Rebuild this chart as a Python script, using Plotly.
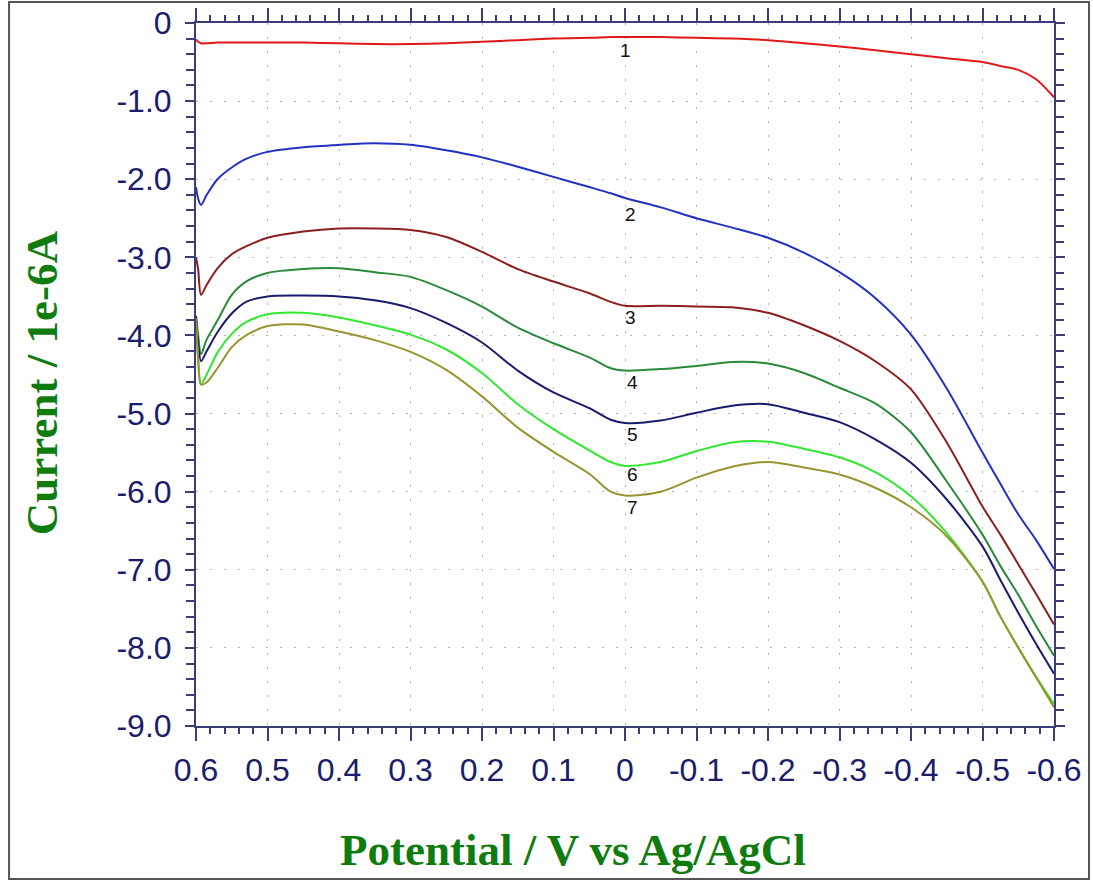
import plotly.graph_objects as go

# Potential (V) sample positions
potential = [0.6, 0.597, 0.593, 0.585, 0.57, 0.55, 0.53, 0.5, 0.45, 0.4, 0.35, 0.3, 0.25,
             0.2, 0.15, 0.1, 0.05, 0.02, 0.0, -0.05, -0.1, -0.15, -0.2, -0.25, -0.3,
             -0.35, -0.4, -0.45, -0.5, -0.525, -0.55, -0.575, -0.6]

# Current (1e-6 A) for each curve
curve1 = [-0.21, -0.24, -0.26, -0.26, -0.25, -0.25, -0.25, -0.25, -0.25, -0.26, -0.27, -0.27, -0.26,
          -0.24, -0.22, -0.2, -0.19, -0.18, -0.18, -0.18, -0.19, -0.2, -0.22, -0.26, -0.3,
          -0.35, -0.4, -0.45, -0.5, -0.55, -0.6, -0.72, -0.95]
curve2 = [-2.1, -2.25, -2.33, -2.2, -2.0, -1.85, -1.74, -1.65, -1.59, -1.56, -1.54, -1.56, -1.63,
          -1.72, -1.84, -1.97, -2.1, -2.18, -2.24, -2.36, -2.5, -2.62, -2.75, -2.94, -3.19,
          -3.52, -3.99, -4.68, -5.5, -5.9, -6.29, -6.62, -6.99]
curve3 = [-3.0, -3.15, -3.48, -3.35, -3.14, -2.96, -2.86, -2.75, -2.67, -2.63, -2.63, -2.65, -2.74,
          -2.93, -3.15, -3.31, -3.46, -3.57, -3.62, -3.62, -3.63, -3.64, -3.71, -3.87, -4.07,
          -4.33, -4.69, -5.37, -6.19, -6.55, -6.93, -7.31, -7.7]
curve4 = [-3.75, -4.0, -4.24, -4.05, -3.81, -3.48, -3.31, -3.2, -3.15, -3.14, -3.19, -3.25, -3.42,
          -3.63, -3.9, -4.1, -4.28, -4.42, -4.45, -4.43, -4.39, -4.34, -4.36, -4.48, -4.67,
          -4.87, -5.24, -5.87, -6.55, -6.95, -7.32, -7.72, -8.1]
curve5 = [-3.75, -4.1, -4.33, -4.2, -3.96, -3.72, -3.57, -3.5, -3.49, -3.5, -3.55, -3.65, -3.84,
          -4.09, -4.45, -4.73, -4.93, -5.08, -5.12, -5.09, -4.99, -4.9, -4.88, -4.99, -5.11,
          -5.33, -5.63, -6.1, -6.7, -7.13, -7.55, -7.95, -8.33]
curve6 = [-3.8, -4.3, -4.62, -4.5, -4.22, -3.98, -3.83, -3.73, -3.71, -3.77, -3.87, -3.99, -4.18,
          -4.48, -4.88, -5.2, -5.47, -5.62, -5.67, -5.62, -5.48, -5.37, -5.36, -5.45, -5.56,
          -5.75, -6.06, -6.53, -7.15, -7.6, -7.99, -8.37, -8.72]
curve7 = [-3.78, -4.3, -4.63, -4.6, -4.42, -4.15, -4.0, -3.88, -3.86, -3.95, -4.06, -4.21, -4.44,
          -4.78, -5.18, -5.49, -5.77, -6.0, -6.05, -6.0, -5.82, -5.68, -5.62, -5.69, -5.78,
          -5.95, -6.2, -6.57, -7.15, -7.6, -8.0, -8.38, -8.76]

curve_names = ["1", "2", "3", "4", "5", "6", "7"]
curve_colors = ["#e01818", "#2232c0", "#8b1e1e", "#2a8a3a", "#1a1a6e", "#30e830", "#9a9430"]

# curve number labels (data coordinates)
label_x = [0.0, -0.007, -0.007, -0.01, -0.01, -0.01, -0.01]
label_y = [-0.35, -2.45, -3.77, -4.6, -5.27, -5.78, -6.2]

# axis ticks
x_tickvals = [0.6, 0.5, 0.4, 0.3, 0.2, 0.1, 0.0, -0.1, -0.2, -0.3, -0.4, -0.5, -0.6]
x_ticktext = ["0.6", "0.5", "0.4", "0.3", "0.2", "0.1", "0", "-0.1", "-0.2", "-0.3", "-0.4", "-0.5", "-0.6"]
y_tickvals = [0, -1, -2, -3, -4, -5, -6, -7, -8, -9]
y_ticktext = ["0", "-1.0", "-2.0", "-3.0", "-4.0", "-5.0", "-6.0", "-7.0", "-8.0", "-9.0"]

curves = [curve1, curve2, curve3, curve4, curve5, curve6, curve7]

fig = go.Figure()
for name, ys, col in zip(curve_names, curves, curve_colors):
    fig.add_trace(go.Scatter(x=potential, y=ys, mode="lines", name=name,
                             line=dict(color=col, width=2, shape="spline", smoothing=0.8),
                             showlegend=False, hoverinfo="skip"))

for name, lx, ly in zip(curve_names, label_x, label_y):
    fig.add_annotation(x=lx, y=ly, text=name, showarrow=False,
                       font=dict(family="Liberation Sans, Arial, sans-serif", size=19, color="#111111"))

axis_col = "#3c3c78"
tick_font = dict(family="Liberation Sans, Arial, sans-serif", size=32, color="#1c1c6c")
grid_col = "#b4b4b4"

fig.update_xaxes(range=[0.6, -0.6], tickvals=x_tickvals, ticktext=x_ticktext,
                 showline=True, linecolor=axis_col, linewidth=2, mirror="allticks",
                 ticks="outside", ticklen=13, tickwidth=1.5, tickcolor=axis_col,
                 tickfont=tick_font, ticklabelstandoff=2, automargin=False,
                 showgrid=True, gridcolor=grid_col, griddash="2px,12px", gridwidth=1,
                 zeroline=False,
                 minor=dict(dtick=0.02, ticks="outside", ticklen=6, tickwidth=1.5,
                            tickcolor=axis_col, showgrid=False))
fig.update_yaxes(range=[-9, 0], tickvals=y_tickvals, ticktext=y_ticktext,
                 showline=True, linecolor=axis_col, linewidth=2, mirror="allticks",
                 ticks="outside", ticklen=9, tickwidth=1.5, tickcolor=axis_col,
                 tickfont=tick_font, ticklabelstandoff=7, automargin=False,
                 showgrid=True, gridcolor=grid_col, griddash="2px,12px", gridwidth=1,
                 zeroline=False,
                 minor=dict(dtick=0.2, ticks="outside", ticklen=8, tickwidth=1.5,
                            tickcolor=axis_col, showgrid=False))

title_font = dict(family="Liberation Serif, Times New Roman, serif", size=45,
                  color="#107c10", weight="bold")
fig.add_annotation(xref="paper", yref="paper", x=0.4394, y=-0.1764,
                   text="Potential / V vs Ag/AgCl", showarrow=False, font=title_font,
                   xanchor="center", yanchor="middle")
fig.add_annotation(xref="paper", yref="paper", x=-0.1795, y=0.489,
                   text="Current / 1e-6A", showarrow=False, font=title_font, textangle=-90,
                   xanchor="center", yanchor="middle")

# outer frame
fig.add_shape(type="rect", xref="paper", yref="paper", x0=-0.2179, x1=1.0408, y0=-0.2176, y1=1.0298,
              line=dict(color="#555555", width=2), fillcolor="rgba(0,0,0,0)", layer="below")

fig.update_layout(width=1093, height=882, margin=dict(l=196, r=39, t=23, b=156, autoexpand=False),
                  plot_bgcolor="white", paper_bgcolor="white")

fig.write_html("out.html", config={"displayModeBar": False},
               post_script="document.body.style.margin='0px';document.body.style.overflow='hidden';")
